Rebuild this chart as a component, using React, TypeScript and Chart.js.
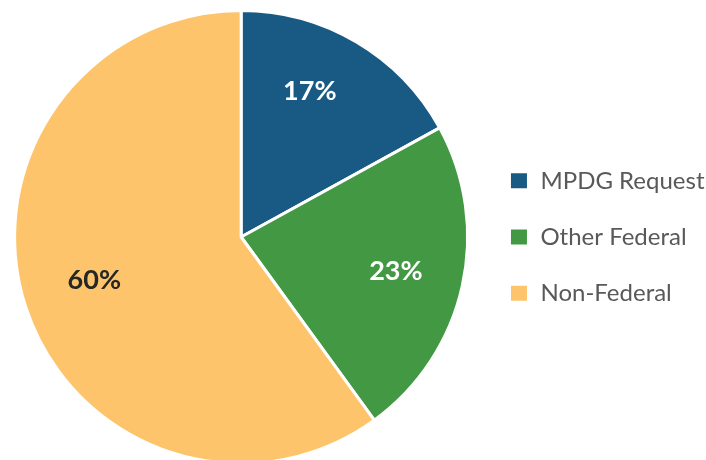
import React, { useEffect, useRef } from "react";
import { Chart, registerables } from "chart.js";

Chart.register(...registerables);

const categories = ["MPDG Request", "Other Federal", "Non-Federal"];
const values = [17, 23, 60];
const sliceColors = ["#185A84", "#439843", "#FDC46C"];
const labelColors = ["#FFFFFF", "#FFFFFF", "#262626"];
const labelNudges = [
  [-12, -9],
  [0, 0],
  [4, -6],
];

const labelPlugin = {
  id: "sliceLabels",
  afterDatasetsDraw(chart: any) {
    const ctx = chart.ctx;
    const meta = chart.getDatasetMeta(0);
    ctx.save();
    ctx.font = "bold 27px Lato";
    ctx.textAlign = "center";
    ctx.textBaseline = "middle";
    meta.data.forEach((arc: any, i: number) => {
      const p = arc.getProps(["x", "y", "startAngle", "endAngle", "outerRadius"], true);
      const mid = (p.startAngle + p.endAngle) / 2;
      const d = p.outerRadius * 0.7;
      ctx.fillStyle = labelColors[i];
      ctx.fillText(
        values[i] + "%",
        p.x + Math.cos(mid) * d + labelNudges[i][0],
        p.y + Math.sin(mid) * d + labelNudges[i][1]
      );
    });
    ctx.restore();
  },
};

export default function App() {
  const ref = useRef<HTMLCanvasElement | null>(null);
  useEffect(() => {
    if (!ref.current) return;
    const chart = new Chart(ref.current, {
      type: "pie",
      data: {
        labels: categories,
        datasets: [
          {
            data: values,
            backgroundColor: sliceColors,
            borderColor: "#FFFFFF",
            borderWidth: 3,
          },
        ],
      },
      options: {
        animation: false,
        responsive: true,
        maintainAspectRatio: false,
        layout: { padding: { left: 5, top: 9, bottom: 7, right: 15.5 } },
        plugins: {
          tooltip: { enabled: false },
          legend: {
            position: "right",
            labels: {
              boxWidth: 19,
              boxHeight: 18,
              padding: 32.2,
              color: "#595959",
              font: { family: "Lato", size: 24 },
            },
          },
        },
      },
      plugins: [labelPlugin],
    });
    return () => chart.destroy();
  }, []);
  return (
    <div style={{ position: "fixed", left: 0, top: 0, width: 706, height: 460, overflow: "hidden", background: "#fff" }}>
      <div style={{ position: "relative", width: 730, height: 472 }}>
        <canvas ref={ref} />
      </div>
    </div>
  );
}
